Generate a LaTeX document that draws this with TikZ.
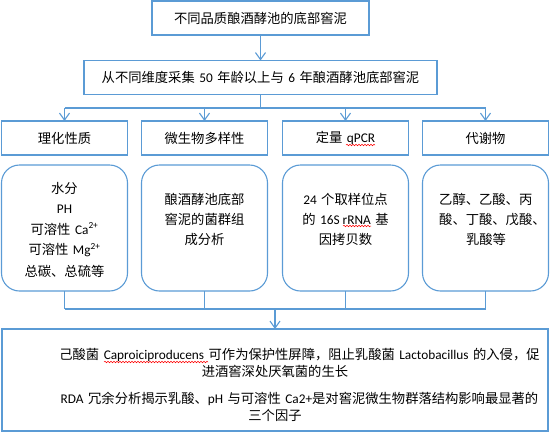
\documentclass[tikz,border=0pt]{standalone}
\usepackage{fontspec}
\setmainfont{Noto Sans CJK SC}
\newfontfamily\lat{Carlito}
\usetikzlibrary{arrows.meta,decorations.pathmorphing}
\definecolor{bl}{HTML}{5B9BD5}
\newcommand\gp{\hspace{4.5pt}}
\begin{document}
\begin{tikzpicture}[x=1pt,y=-1pt,
  every node/.style={font=\fontsize{13.3}{16}\selectfont, text=black},
  sq/.style={draw=bl, line width=1.1pt, inner sep=0pt, outer sep=0pt},
  rowbox/.style={sq, minimum width=126pt, minimum height=34pt},
  rbox/.style={sq, rounded corners=18pt, minimum width=126pt, minimum height=126pt},
  conn/.style={draw=bl, line width=1.1pt},
  arr/.style={conn, -{Straight Barb[length=7pt,width=10pt]}},
  txt/.style={anchor=base, inner sep=0pt},
  txtw/.style={anchor=base west, inner sep=0pt},
  wavy/.style={draw=red, line width=0.5pt, decorate, decoration={snake, amplitude=0.8pt, segment length=3pt}}]
\useasboundingbox (0,0) rectangle (550,432);

% top boxes
\node[sq, minimum width=217pt, minimum height=34pt] (top) at (260.5,18) {不同品质酿酒酵池的底部窖泥};
\node[sq, minimum width=353pt, minimum height=34pt] (second) at (260.5,77.5) {从不同维度采集\gp{\lat 50}\gp 年龄以上与\gp{\lat 6}\gp 年酿酒酵池底部窖泥};

% row boxes
\node[rowbox] (r1) at (64.5,138) {理化性质};
\node[rowbox] (r2) at (204.5,138) {微生物多样性};
\node[rowbox] (r3) at (345.5,138) {定量\gp{\lat qPCR}};
\node[rowbox] (r4) at (485.5,138) {代谢物};

% rounded boxes
\node[rbox] (b1) at (64.5,228) {};
\node[rbox] (b2) at (204.5,228) {};
\node[rbox] (b3) at (345.5,228) {};
\node[rbox] (b4) at (485.5,228) {};

% bottom box
\node[sq, minimum width=546pt, minimum height=102pt] (bottom) at (275,380) {};

% texts in rounded boxes
\node[txt] (b1a) at (64.5,193) {水分};
\node[txt] (b1b) at (64.5,213.5) {\lat PH};
\node[txt] (b1c) at (64.5,234) {可溶性\gp{\lat Ca\textsuperscript{2+}}};
\node[txt] (b1d) at (64.5,254.5) {可溶性\gp{\lat Mg\textsuperscript{2+}}};
\node[txt] (b1e) at (64.5,276) {总碳、总硫等};

\node[txt] (b2a) at (204.5,204) {酿酒酵池底部};
\node[txt] (b2b) at (204.5,224) {窖泥的菌群组};
\node[txt] (b2c) at (204.5,244.5) {成分析};

\node[txt] (b3a) at (345.5,204) {{\lat 24}\gp 个取样位点};
\node[txt] (b3b) at (345.5,224) {的\gp{\lat 16S rRNA}\gp 基};
\node[txt] (b3c) at (345.5,244.5) {因拷贝数};

\node[txtw] (b4a) at (439,204) {乙醇、乙酸、丙};
\node[txtw] (b4b) at (439,224) {酸、丁酸、戊酸、};
\node[txt] (b4c) at (486,244.5) {乳酸等};

% texts in bottom box
\node[txt] (t1) at (299.5,359.5) {己酸菌\gp{\lat Caproiciproducens}\gp 可作为保护性屏障，阻止乳酸菌\gp{\lat Lactobacillus}\gp 的入侵，促};
\node[txt] (t2) at (275,376.5) {进酒窖深处厌氧菌的生长};
\node[txt] (t3) at (299.5,403.5) {{\lat RDA}\gp 冗余分析揭示乳酸、{\lat pH}\gp 与可溶性\gp{\lat Ca2+}是对窖泥微生物群落结构影响最显著的};
\node[txt] (t4) at (275,420.5) {三个因子};

% spell-check wavy underlines
\draw[wavy] (346,145) -- (375,145);
\draw[wavy] (343,226) -- (371,226);
\draw[wavy] (104,362) -- (208,362);

% connectors
\draw[arr] (top) -- (second);
\coordinate (busA) at (260.5,108);
\draw[conn] (second) -- (busA);
\draw[conn] (r1.north |- busA) -- (r4.north |- busA);
\draw[arr] (r1.north |- busA) -- (r1.north);
\draw[arr] (r2.north |- busA) -- (r2.north);
\draw[arr] (r3.north |- busA) -- (r3.north);
\draw[arr] (r4.north |- busA) -- (r4.north);

\coordinate (busB) at (275,309);
\draw[conn] (b1.south) -- (b1.south |- busB);
\draw[conn] (b2.south) -- (b2.south |- busB);
\draw[conn] (b3.south) -- (b3.south |- busB);
\draw[conn] (b4.south) -- (b4.south |- busB);
\draw[conn] (b1.south |- busB) -- (b4.south |- busB);
\draw[arr] (busB) -- (bottom);
\end{tikzpicture}
\end{document}
